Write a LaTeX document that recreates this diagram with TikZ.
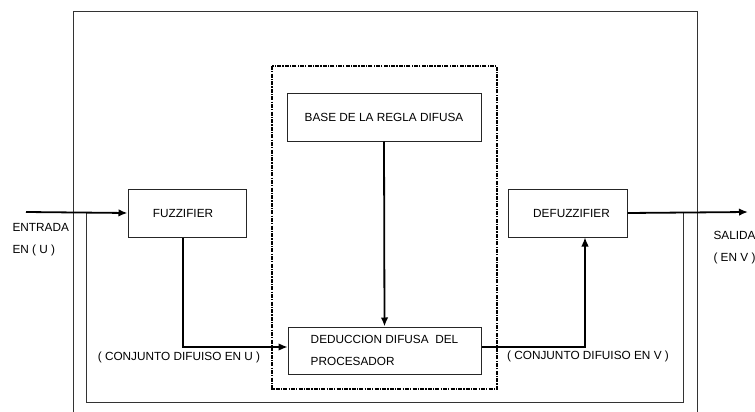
\documentclass[tikz,border=0pt]{standalone}
\usepackage{fontspec}
\setmainfont{Liberation Sans}
\usetikzlibrary{arrows.meta}
\begin{document}
\begin{tikzpicture}[x=1pt,y=-1pt,
  every node/.style={font=\fontsize{11.8}{22}\selectfont},
  blk/.style={draw=black!85,line width=1pt,inner sep=0pt},
  flow/.style={line width=1.8pt,-{Latex[length=9pt,width=7.5pt]}},
  frame/.style={draw=black!80,line width=1pt}]
\useasboundingbox (0,0) rectangle (755,412);
% frames
\draw[frame] (73,412) -- (73,12) -- (697,12) -- (697,412);
\draw[frame] (86,212) -- (86,402) -- (683,402) -- (683,212);
\draw[line width=1.6pt,dash pattern=on 4pt off 1.2pt on 1.2pt off 1.2pt] (272,66) rectangle (497,389);
% blocks
\node[blk,minimum width=118pt,minimum height=48pt] (fuzz) at (187,213) {\hspace*{-8pt}FUZZIFIER};
\node[blk,minimum width=119pt,minimum height=48pt] (defuzz) at (567.5,213) {\hspace*{8pt}DEFUZZIFIER};
\node[blk,minimum width=194pt,minimum height=48pt] (base) at (384,117) {BASE DE LA REGLA DIFUSA};
\node[blk,minimum width=193pt,minimum height=47pt,align=left] (deduc) at (384.5,350.5) {DEDUCCION DIFUSA~~DEL\\PROCESADOR};
% connectors
\coordinate (in) at (26,212);
\coordinate (out) at (748,212);
\draw[flow] (in) -- (fuzz.west);
\draw[flow] (defuzz.east) -- (out);
\draw[flow] (base.south) -- (deduc.north);
\draw[flow,line width=1.3pt] ([xshift=-4pt]fuzz.south) |- ([yshift=3.5pt]deduc.west);
\draw[flow,line width=1.3pt] ([yshift=3.5pt]deduc.east) -| ([xshift=17.5pt]defuzz.south);
% labels
\node[anchor=west,align=left] (entrada) at (9,240) {ENTRADA\\EN ( U )};
\node[anchor=west,align=left] (salida) at (710,248) {SALIDA\\( EN V )};
\node (conjU) at (179,357) {( CONJUNTO DIFUISO EN U )};
\node (conjV) at (588,356) {( CONJUNTO DIFUISO EN V )};
\end{tikzpicture}
\end{document}
